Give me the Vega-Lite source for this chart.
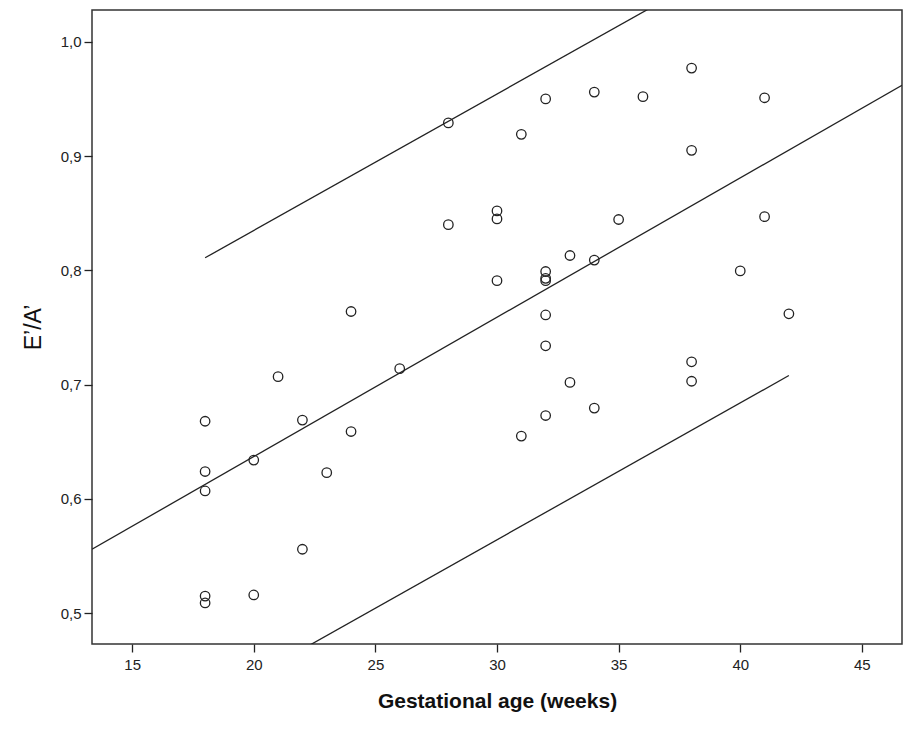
{
  "$schema": "https://vega.github.io/schema/vega-lite/v6.json",
  "width": 810,
  "height": 634,
  "autosize": {"type": "none"},
  "padding": {"left": 92, "top": 10, "right": 13, "bottom": 89},
  "background": "white",
  "config": {
    "view": {"stroke": "#333333", "strokeWidth": 1.5},
    "font": "Liberation Sans",
    "axis": {
      "grid": false,
      "domain": false,
      "tickColor": "#222222",
      "tickSize": 8,
      "tickWidth": 1.3,
      "labelFont": "Liberation Sans",
      "labelFontSize": 15,
      "labelColor": "#222222",
      "titleFont": "Liberation Sans",
      "titleColor": "#111111"
    }
  },
  "datasets": {
    "pts": [
      {"age": 18, "ea": 0.668}, {"age": 18, "ea": 0.624}, {"age": 18, "ea": 0.607}, {"age": 18, "ea": 0.515}, {"age": 18, "ea": 0.509},
      {"age": 20, "ea": 0.634}, {"age": 20, "ea": 0.516},
      {"age": 21, "ea": 0.707},
      {"age": 22, "ea": 0.669}, {"age": 22, "ea": 0.556},
      {"age": 23, "ea": 0.623},
      {"age": 24, "ea": 0.764}, {"age": 24, "ea": 0.659},
      {"age": 26, "ea": 0.714},
      {"age": 28, "ea": 0.929}, {"age": 28, "ea": 0.840},
      {"age": 30, "ea": 0.852}, {"age": 30, "ea": 0.845}, {"age": 30, "ea": 0.791},
      {"age": 31, "ea": 0.919}, {"age": 31, "ea": 0.655},
      {"age": 32, "ea": 0.950}, {"age": 32, "ea": 0.799}, {"age": 32, "ea": 0.793}, {"age": 32, "ea": 0.791}, {"age": 32, "ea": 0.761}, {"age": 32, "ea": 0.734}, {"age": 32, "ea": 0.673},
      {"age": 33, "ea": 0.813}, {"age": 33, "ea": 0.702},
      {"age": 34, "ea": 0.956}, {"age": 34, "ea": 0.809}, {"age": 34, "ea": 0.6795},
      {"age": 35, "ea": 0.8445},
      {"age": 36, "ea": 0.952},
      {"age": 38, "ea": 0.977}, {"age": 38, "ea": 0.905}, {"age": 38, "ea": 0.720}, {"age": 38, "ea": 0.703},
      {"age": 40, "ea": 0.7995},
      {"age": 41, "ea": 0.951}, {"age": 41, "ea": 0.847},
      {"age": 42, "ea": 0.762}
    ],
    "lines": [
      {"series": "fit", "age": 13.35, "ea": 0.556},
      {"series": "fit", "age": 46.65, "ea": 0.962},
      {"series": "upper", "age": 18, "ea": 0.811},
      {"series": "upper", "age": 42, "ea": 1.0976},
      {"series": "lower", "age": 18, "ea": 0.4206},
      {"series": "lower", "age": 42, "ea": 0.708}
    ]
  },
  "layer": [
    {
      "data": {"name": "lines"},
      "mark": {"type": "line", "clip": true, "color": "#222222", "strokeWidth": 1.3},
      "encoding": {
        "x": {"field": "age", "type": "quantitative"},
        "y": {"field": "ea", "type": "quantitative"},
        "detail": {"field": "series"}
      }
    },
    {
      "data": {"name": "pts"},
      "mark": {"type": "point", "shape": "circle", "filled": false, "size": 90, "stroke": "#222222", "strokeWidth": 1.3, "opacity": 1},
      "encoding": {
        "x": {
          "field": "age",
          "type": "quantitative",
          "scale": {"domain": [13.35, 46.65], "nice": false, "zero": false},
          "axis": {
            "values": [15, 20, 25, 30, 35, 40, 45],
            "title": "Gestational age (weeks)",
            "titleFontSize": 21,
            "titleFontWeight": "bold",
            "titlePadding": 18,
            "labelPadding": 5
          }
        },
        "y": {
          "field": "ea",
          "type": "quantitative",
          "scale": {"domain": [0.4731, 1.0278], "nice": false, "zero": false},
          "axis": {
            "values": [0.5, 0.6, 0.7, 0.8, 0.9, 1.0],
            "labelExpr": "replace(format(datum.value, '.1f'), '.', ',')",
            "title": "E’/A’",
            "titleFontSize": 23,
            "titleFontWeight": "normal",
            "titlePadding": 15,
            "labelPadding": 3
          }
        }
      }
    }
  ]
}
